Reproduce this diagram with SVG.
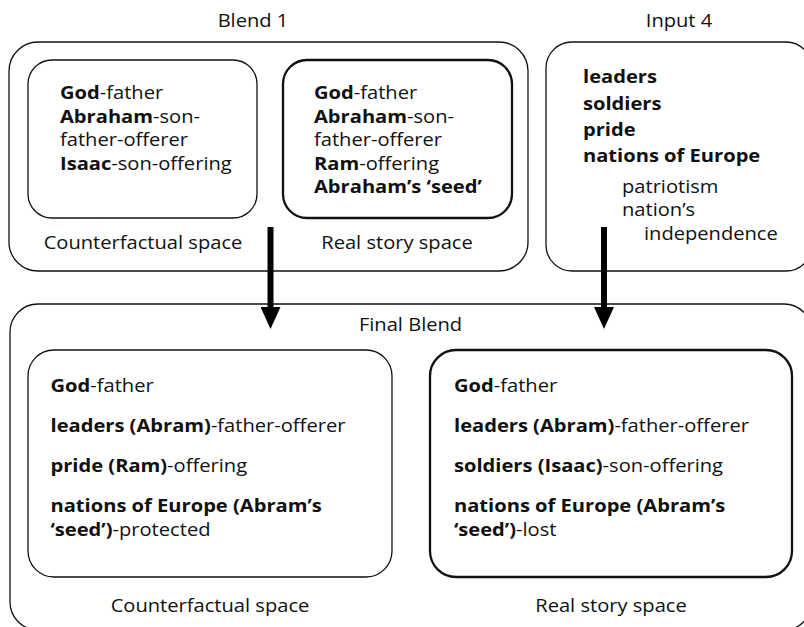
<svg xmlns="http://www.w3.org/2000/svg" width="804" height="627" viewBox="0 0 804 627">
  <style>
    .frame { fill: none; stroke: #111; stroke-width: 1.3; }
    .frame-strong { fill: none; stroke: #111; stroke-width: 2.3; }
    text { font-family: "Open Sans", "Noto Sans", "Liberation Sans", sans-serif; font-size: 17.5px; fill: #111; }
    .mid { text-anchor: middle; }
    .b { font-weight: 700; }
    .link { stroke: #000; stroke-width: 6; fill: none; }
  </style>
  <defs>
    <marker id="head" viewBox="0 0 22 20" refX="2" refY="10" markerWidth="22" markerHeight="20" markerUnits="userSpaceOnUse" orient="auto">
      <path d="M0,0 L22,10 L0,20 Z" fill="#000"/>
    </marker>
  </defs>

  <rect width="804" height="627" fill="#fff"/>

  <!-- Blend 1: two spaces side by side -->
  <g id="blend1">
    <rect class="frame" x="9" y="42" width="519" height="229" rx="29"/>
    <text class="mid" transform="translate(253 27) scale(1.15 1)">Blend 1</text>
  </g>
  <g id="blend1-counterfactual">
    <rect class="frame" x="28" y="60" width="229" height="158" rx="24"/>
    <text transform="translate(60 99) scale(1.15 1)"><tspan class="b">God</tspan>-father</text>
    <text transform="translate(60 122.5) scale(1.15 1)"><tspan class="b">Abraham</tspan>-son-</text>
    <text transform="translate(60 146) scale(1.15 1)">father-offerer</text>
    <text transform="translate(60 169.5) scale(1.15 1)"><tspan class="b">Isaac</tspan>-son-offering</text>
    <text class="mid" transform="translate(143 249) scale(1.15 1)">Counterfactual space</text>
  </g>
  <g id="blend1-real">
    <rect class="frame-strong" x="283" y="60" width="229" height="158" rx="24"/>
    <text transform="translate(314 99) scale(1.15 1)"><tspan class="b">God</tspan>-father</text>
    <text transform="translate(314 122.5) scale(1.15 1)"><tspan class="b">Abraham</tspan>-son-</text>
    <text transform="translate(314 146) scale(1.15 1)">father-offerer</text>
    <text transform="translate(314 169.5) scale(1.15 1)"><tspan class="b">Ram</tspan>-offering</text>
    <text class="b" transform="translate(314 193) scale(1.15 1)">Abraham’s ‘seed’</text>
    <text class="mid" transform="translate(397 249) scale(1.15 1)">Real story space</text>
  </g>

  <!-- Input 4 -->
  <g id="input4">
    <rect class="frame" x="546" y="42" width="266" height="229" rx="26"/>
    <text class="mid" transform="translate(679 27) scale(1.15 1)">Input 4</text>
    <text class="b" transform="translate(583 83) scale(1.15 1)">leaders</text>
    <text class="b" transform="translate(583 109.5) scale(1.15 1)">soldiers</text>
    <text class="b" transform="translate(583 136) scale(1.15 1)">pride</text>
    <text class="b" transform="translate(583 162) scale(1.15 1)">nations of Europe</text>
    <text transform="translate(622 193) scale(1.15 1)">patriotism</text>
    <text transform="translate(622 216) scale(1.15 1)">nation’s</text>
    <text transform="translate(644 240) scale(1.15 1)">independence</text>
  </g>

  <!-- Final Blend -->
  <g id="final-blend">
    <rect class="frame" x="10" y="304" width="802" height="326" rx="28"/>
    <text class="mid" transform="translate(410.5 331) scale(1.15 1)">Final Blend</text>
  </g>
  <g id="final-counterfactual">
    <rect class="frame" x="28" y="350" width="364" height="227" rx="26"/>
    <text transform="translate(50.5 392) scale(1.15 1)"><tspan class="b">God</tspan>-father</text>
    <text transform="translate(50.5 432) scale(1.15 1)"><tspan class="b">leaders (Abram)</tspan>-father-offerer</text>
    <text transform="translate(50.5 472) scale(1.15 1)"><tspan class="b">pride (Ram)</tspan>-offering</text>
    <text class="b" transform="translate(50.5 512) scale(1.15 1)">nations of Europe (Abram’s</text>
    <text transform="translate(50.5 535.5) scale(1.15 1)"><tspan class="b">‘seed’)</tspan>-protected</text>
    <text class="mid" transform="translate(210 612) scale(1.15 1)">Counterfactual space</text>
  </g>
  <g id="final-real">
    <rect class="frame-strong" x="430" y="350" width="362" height="227" rx="26"/>
    <text transform="translate(454 392) scale(1.15 1)"><tspan class="b">God</tspan>-father</text>
    <text transform="translate(454 432) scale(1.15 1)"><tspan class="b">leaders (Abram)</tspan>-father-offerer</text>
    <text transform="translate(454 472) scale(1.15 1)"><tspan class="b">soldiers (Isaac)</tspan>-son-offering</text>
    <text class="b" transform="translate(454 512) scale(1.15 1)">nations of Europe (Abram’s</text>
    <text transform="translate(454 535.5) scale(1.15 1)"><tspan class="b">‘seed’)</tspan>-lost</text>
    <text class="mid" transform="translate(611 612) scale(1.15 1)">Real story space</text>
  </g>

  <!-- Connectors: both upper spaces feed the final blend -->
  <g id="connectors">
    <line class="link" x1="270.5" y1="227" x2="270.5" y2="309" marker-end="url(#head)"/>
    <line class="link" x1="604" y1="227" x2="604" y2="309" marker-end="url(#head)"/>
  </g>
</svg>
